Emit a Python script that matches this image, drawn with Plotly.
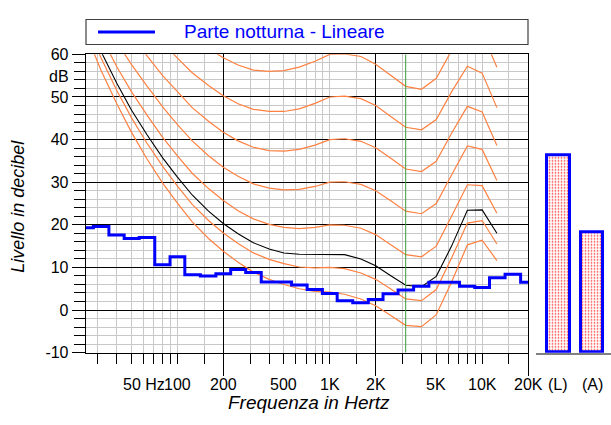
import math
import plotly.graph_objects as go

W, H = 611, 425
FONT = "Liberation Sans, Arial, sans-serif"

# 1/3-octave centre frequencies used by the equal-loudness contours (Hz)
freqs = [25, 31.5, 40, 50, 63, 80, 100, 125, 160, 200, 250, 315, 400, 500, 630,
         800, 1000, 1250, 1600, 2000, 2500, 3150, 4000, 5000, 6300, 8000, 10000, 12500]

# equal-loudness contours (dB)
threshold = [65.0, 56.3, 48.4, 41.7, 35.5, 29.8, 25.1, 20.7, 16.8, 13.8, 11.2, 8.9, 7.2, 6.0, 5.0,
             4.4, 4.2, 3.7, 2.6, 1.0, -1.2, -3.6, -3.9, -1.1, 6.6, 15.3, 16.4, 11.6]
phon10 = [67.7, 59.2, 51.5, 45.1, 39.2, 33.7, 29.1, 24.8, 21.0, 18.1, 15.6, 13.4, 11.9, 10.9, 10.1,
          9.9, 10.0, 9.7, 8.7, 7.2, 5.0, 2.6, 2.2, 4.8, 12.2, 20.4, 21.0, 15.5]
phon20 = [72.5, 64.3, 57.1, 51.2, 45.8, 40.5, 36.2, 32.1, 28.5, 25.7, 23.3, 21.4, 20.1, 19.4, 19.1,
          19.4, 20.0, 19.9, 19.2, 17.7, 15.4, 13.0, 12.5, 15.0, 22.0, 29.4, 29.2, 22.7]
phon30 = [77.6, 69.7, 62.9, 57.6, 52.6, 47.7, 43.5, 39.7, 36.2, 33.5, 31.4, 29.6, 28.6, 28.2, 28.3,
          29.0, 30.0, 30.1, 29.5, 28.0, 25.7, 23.2, 22.6, 25.0, 31.7, 38.5, 37.7, 30.4]
phon40 = [82.9, 75.4, 69.0, 64.3, 59.7, 55.0, 51.2, 47.5, 44.3, 41.7, 39.7, 38.2, 37.4, 37.3, 37.7,
          38.7, 40.0, 40.2, 39.6, 38.1, 35.7, 33.1, 32.5, 34.9, 41.5, 47.8, 46.5, 38.6]
phon50 = [88.5, 81.3, 75.4, 71.3, 67.1, 62.7, 59.1, 55.7, 52.7, 50.3, 48.4, 47.1, 46.6, 46.6, 47.2,
          48.5, 50.0, 50.2, 49.6, 48.0, 45.5, 42.9, 42.3, 44.7, 51.2, 57.2, 55.6, 47.5]
phon60 = [94.4, 87.6, 82.1, 78.6, 74.8, 70.6, 67.3, 64.2, 61.4, 59.2, 57.5, 56.3, 56.0, 56.2, 57.0,
          58.4, 60.0, 60.1, 59.5, 57.7, 55.1, 52.5, 51.8, 54.4, 60.9, 66.7, 65.0, 57.0]
# reference contour drawn in black
reference13 = [69.1, 60.7, 53.2, 46.9, 41.2, 35.7, 31.2, 27.0, 23.2, 20.3, 17.9, 15.8, 14.3, 13.4, 13.1,
               13.1, 13.1, 13.0, 12.0, 10.4, 8.1, 5.8, 5.5, 7.9, 15.0, 23.4, 23.5, 18.0]

# measured 1/3-octave spectrum
band_freqs = [25, 31.5, 40, 50, 63, 80, 100, 125, 160, 200, 250, 315, 400, 500, 630, 800, 1000,
              1250, 1600, 2000, 2500, 3150, 4000, 5000, 6300, 8000, 10000, 12500, 16000, 20000]
band_levels = [19.3, 19.6, 17.6, 16.8, 17.0, 10.6, 12.5, 8.3, 8.0, 8.5, 9.5, 8.8, 6.6, 6.6, 5.9, 4.8, 3.9,
               2.2, 1.7, 2.5, 3.8, 4.7, 5.6, 6.5, 6.5, 5.6, 5.3, 7.6, 8.4, 6.5]

# overall levels
total_labels = ["(L)", "(A)"]
total_levels = [36.2, 18.2]

marker_freq = 3150
y_min, y_max = -10, 60
x_min, x_max = 25, 20000

x_major = [200, 2000, 20000]
x_minor = [30, 40, 50, 60, 70, 80, 90, 100, 150, 300, 400, 500, 600, 700, 800, 900, 1000, 1500,
           3000, 4000, 5000, 6000, 7000, 8000, 9000, 10000, 15000]
x_label_vals = [50, 100, 200, 500, 1000, 2000, 5000, 10000, 20000]
x_label_text = ["50 Hz", "100", "200", "500", "1K", "2K", "5K", "10K", "20K"]
y_tick_vals = [-10, 0, 10, 20, 30, 40, 50, 60]
y_tick_text = ["-10", "0", "10", "20", "30", "40", "50", "60"]

ORANGE = "#ff8040"


def px(x):
    return x / W


def py(y):
    return 1 - y / H


fig = go.Figure()

for curve in [threshold, phon10, phon20, phon30, phon40, phon50, phon60]:
    fig.add_trace(go.Scatter(x=freqs, y=curve, mode="lines",
                             line=dict(color=ORANGE, width=1.2), showlegend=False,
                             hoverinfo="skip"))
fig.add_trace(go.Scatter(x=freqs, y=reference13, mode="lines",
                         line=dict(color="black", width=1.1), showlegend=False, hoverinfo="skip"))
fig.add_trace(go.Scatter(x=[marker_freq, marker_freq], y=[y_min, y_max], mode="lines",
                         line=dict(color="#3c9a3c", width=1), showlegend=False, hoverinfo="skip"))
fig.add_trace(go.Scatter(x=band_freqs, y=band_levels, mode="lines",
                         line=dict(color="#0000ff", width=3, shape="hvh"),
                         name="Parte notturna - Lineare", showlegend=False))

fig.add_trace(go.Bar(x=total_labels, y=[v - y_min for v in total_levels], base=y_min,
                     width=0.68, xaxis="x2", yaxis="y2", showlegend=False,
                     marker=dict(color="white", line=dict(color="#0000ff", width=3),
                                 pattern=dict(shape=".", fgcolor="#ff3030", bgcolor="white",
                                              size=3, solidity=0.25, fillmode="replace"))))

ydom = [py(359), py(48.3)]

fig.update_layout(
    width=W, height=H,
    margin=dict(l=0, r=0, t=0, b=0),
    paper_bgcolor="white", plot_bgcolor="white",
    font=dict(family=FONT, size=16, color="black"),
    bargap=0,
    xaxis=dict(
        type="log", range=[math.log10(x_min), math.log10(x_max)],
        domain=[px(85.7), px(528)], anchor="y",
        tickmode="array", tickvals=x_major, showticklabels=False,
        ticks="outside", ticklen=22, tickcolor="black", tickwidth=1,
        showgrid=True, gridcolor="black", gridwidth=1,
        minor=dict(tickmode="array", tickvals=x_minor, ticks="outside", ticklen=10,
                   tickcolor="black", tickwidth=1, showgrid=True, gridcolor="#c8c8c8",
                   gridwidth=1),
        showline=True, linecolor="black", linewidth=1, mirror=True, zeroline=False,
    ),
    yaxis=dict(
        range=[y_min, y_max], domain=ydom, anchor="x",
        tickmode="array", tickvals=y_tick_vals, ticktext=y_tick_text,
        ticks="outside", ticklen=13, tickcolor="black", tickwidth=1,
        tickfont=dict(size=16, color="black"),
        showgrid=True, gridcolor="black", gridwidth=1,
        minor=dict(dtick=2, tick0=0, ticks="outside", ticklen=11, tickcolor="black",
                   tickwidth=1, showgrid=True, gridcolor="#c8c8c8", gridwidth=1),
        showline=True, linecolor="black", linewidth=1, mirror=True, zeroline=False,
    ),
    xaxis2=dict(
        domain=[px(536), 1.0], anchor="y2", type="category",
        categoryorder="array", categoryarray=total_labels,
        range=[-0.662, 1.564], showgrid=False, showticklabels=False, ticks="",
        showline=True, linecolor="#808080", linewidth=1.5, zeroline=False,
    ),
    yaxis2=dict(
        range=[y_min, y_max], domain=ydom, anchor="x2",
        showgrid=False, showticklabels=False, ticks="", showline=False, zeroline=False,
    ),
)

annotations = []
for v, t in zip(x_label_vals, x_label_text):
    a = dict(x=math.log10(v), xref="x", y=py(392), yref="paper", text=t, showarrow=False,
             yanchor="middle", font=dict(size=16, color="black"))
    if t.endswith("Hz"):
        a.update(xanchor="left", xshift=-10.5)
    else:
        a.update(xanchor="center")
    annotations.append(a)
for lab in total_labels:
    annotations.append(dict(x=lab, xref="x2", y=py(392), yref="paper", text=lab,
                            showarrow=False, xanchor="center", yanchor="middle",
                            font=dict(size=16, color="black")))
annotations += [
    dict(x=px(71), y=py(71.7), xref="paper", yref="paper", text="dB", showarrow=False,
         xanchor="right", yanchor="middle", font=dict(size=16, color="black")),
    dict(x=px(309), y=py(411), xref="paper", yref="paper", text="<i>Frequenza in Hertz</i>",
         showarrow=False, xanchor="center", yanchor="middle", font=dict(size=19, color="black")),
    dict(x=px(18), y=py(207), xref="paper", yref="paper", text="<i>Livello in decibel</i>",
         showarrow=False, xanchor="center", yanchor="middle", textangle=-90,
         font=dict(size=18, color="black")),
    dict(x=px(182), y=py(24), xref="paper", yref="paper", text="Parte notturna - Lineare",
         showarrow=False, xanchor="left", yanchor="middle", font=dict(size=19, color="#0000ff")),
]
fig.update_layout(annotations=annotations)

fig.update_layout(shapes=[
    dict(type="rect", xref="paper", yref="paper", x0=px(86), x1=px(528), y0=py(38), y1=py(12),
         line=dict(color="#404040", width=1.2), fillcolor="white", layer="above"),
    dict(type="line", xref="paper", yref="paper", x0=px(98), x1=px(155), y0=py(25), y1=py(25),
         line=dict(color="#0000ff", width=3), layer="above"),
])

fig.write_html("out.html", config={"displayModeBar": False},
               post_script="document.body.style.margin='0px';document.body.style.overflow='hidden';")
